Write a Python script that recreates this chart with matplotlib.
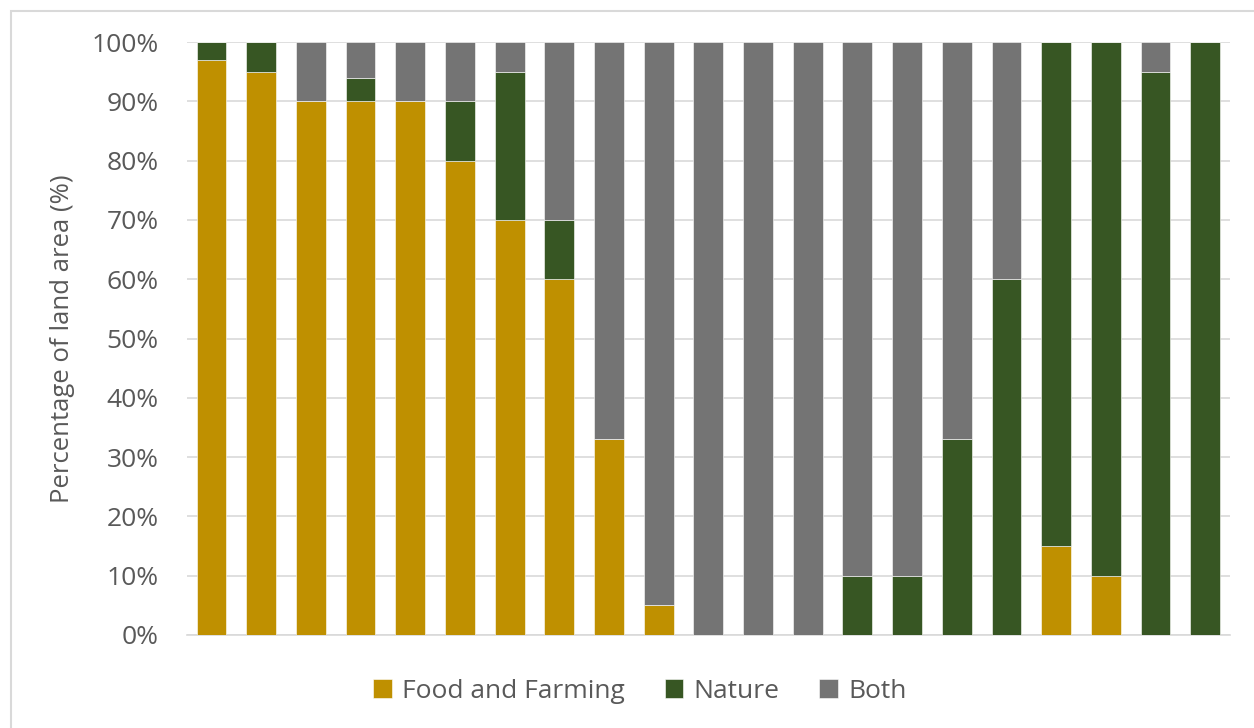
import numpy as np
import matplotlib
matplotlib.use("Agg")
import matplotlib.pyplot as plt
from matplotlib.patches import Rectangle
from matplotlib.ticker import PercentFormatter

plt.rcParams['font.family'] = ['Open Sans', 'DejaVu Sans']

# values per bar (percent of land area)
food = [97, 95, 90, 90, 90, 80, 70, 60, 33, 5, 0, 0, 0, 0, 0, 0, 0, 15, 10, 0, 0]
nature = [3, 5, 0, 4, 0, 10, 25, 10, 0, 0, 0, 0, 0, 10, 10, 33, 60, 85, 90, 95, 100]
both = [0, 0, 10, 6, 10, 10, 5, 30, 67, 95, 100, 100, 100, 90, 90, 67, 40, 0, 0, 5, 0]
series_names = ['Food and Farming', 'Nature', 'Both']
colors = ['#BF9000', '#375623', '#747474']

x = np.arange(len(food))
text_col = '#595959'

fig = plt.figure(figsize=(12.54, 7.28), dpi=100)
ax = fig.add_axes([186.7 / 1254, 1 - 635 / 728, (1230 - 186.7) / 1254, (635 - 42) / 728])

# outer chart border like excel
fig.patches.append(Rectangle((11 / 1254, -0.1), 1.2, (728 - 11) / 728 + 0.1,
                             transform=fig.transFigure, fill=False,
                             edgecolor='#D9D9D9', linewidth=1.5))

bottom = np.zeros(len(food))
for vals, name, c in zip([food, nature, both], series_names, colors):
    ax.bar(x, vals, width=0.6, bottom=bottom, color=c, label=name,
           edgecolor='white', linewidth=0.4, zorder=3)
    bottom += np.array(vals)

ax.set_xlim(-0.5, len(food) - 0.5)
ax.set_ylim(0, 100)
ax.set_yticks(np.arange(0, 101, 10))
ax.yaxis.set_major_formatter(PercentFormatter(decimals=0))
ax.set_xticks([])
ax.grid(axis='y', color='#D9D9D9', linewidth=1.2, zorder=0)
for s in ['top', 'right', 'left']:
    ax.spines[s].set_visible(False)
ax.spines['bottom'].set_color('#D9D9D9')
ax.spines['bottom'].set_linewidth(1.2)
ax.tick_params(axis='y', length=0, labelsize=19, labelcolor=text_col, pad=20)
ax.set_ylabel('Percentage of land area (%)', fontsize=18.5, color=text_col, labelpad=12)

fig.legend(*ax.get_legend_handles_labels(), loc='center', bbox_to_anchor=(640 / 1254, 1 - 691 / 728),
           ncol=3, frameon=False, fontsize=19, labelcolor=text_col,
           handlelength=0.7, handleheight=0.7, handletextpad=0.4, columnspacing=1.5)

fig.savefig('out.png', dpi=100)
